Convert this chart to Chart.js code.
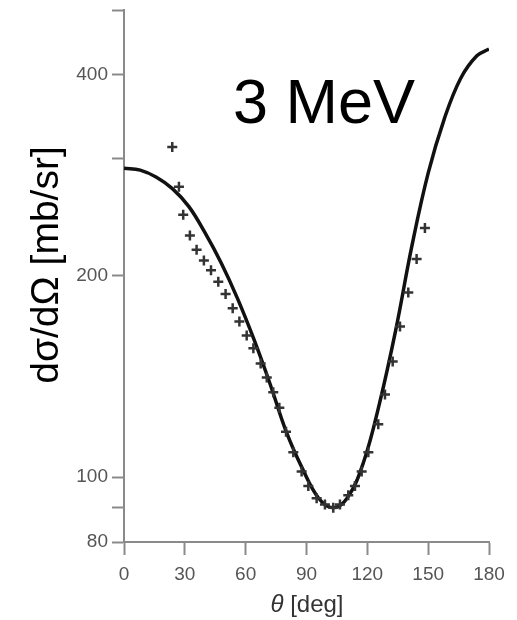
<!DOCTYPE html>
<html lang="en">
<head>
    <meta charset="UTF-8">
    <title>3 MeV</title>
    <script src="https://cdn.jsdelivr.net/npm/chart.js"></script>
    <style>
        body {
            margin: 0;
            background: #ffffff;
        }

        .chart-container {
            position: relative;
            width: 517px;
            height: 620px;
        }
    </style>
</head>
<body>
    <div class="chart-container">
        <canvas id="crossSection"></canvas>
    </div>

    <script>
        // Calculated curve (solid line)
        const curveAngles = [0, 8, 16, 24, 32, 40, 48, 56, 64, 72, 80, 88, 96, 103, 110, 118, 126, 134, 142, 150, 158, 166, 174, 180];
        const curveValues = [290, 288, 281, 270, 254, 232, 209, 185, 161, 138, 117, 103, 93, 90, 93, 105, 129, 166, 222, 285, 344, 395, 427, 437];

        // Measured points (crosses)
        const dataAngles = [23.8, 27.1, 29.2, 32.5, 35.8, 39.4, 42.9, 46.5, 50.1, 53.6, 56.9, 60.5, 63.8, 67.4, 70.4, 73.6, 76.6, 79.9, 83.5, 87.6, 90.9, 95.0, 99.1, 103.2, 106.5, 110.6, 113.9, 117.2, 120.5, 125.4, 128.7, 132.5, 136.1, 140.2, 144.3, 148.4];
        const dataValues = [312, 272, 247, 230, 219, 211, 204, 196, 188, 179, 171, 163, 156, 148, 141, 134, 127, 117, 109, 102, 97, 93, 91, 90, 91, 94, 97, 102, 109, 120, 133, 149, 168, 189, 212, 236];

        const xTicks = [0, 30, 60, 90, 120, 150, 180];
        const yTicks = [80, 90, 100, 200, 300, 400, 500];
        const yLabels = [80, 100, 200, 400];

        const toPoints = (xs, ys) => xs.map((x, i) => ({ x: x, y: ys[i] }));

        // texts drawn on top: energy label and axis titles
        const textPlugin = {
            id: 'texts',
            afterDraw(chart) {
                const ctx = chart.ctx;
                ctx.save();
                ctx.fillStyle = '#000000';
                ctx.textBaseline = 'alphabetic';
                ctx.textAlign = 'left';
                ctx.font = '63px "Liberation Sans", Arial, sans-serif';
                ctx.fillText('3 MeV', 233, 123);

                // x title: italic theta + [deg]
                ctx.fillStyle = '#333333';
                ctx.textBaseline = 'middle';
                ctx.font = 'italic 24px "Liberation Sans", Arial, sans-serif';
                const th = ctx.measureText('θ ').width;
                ctx.font = '24px "Liberation Sans", Arial, sans-serif';
                const rest = ctx.measureText('[deg]').width;
                const startX = 307 - (th + rest) / 2;
                ctx.font = 'italic 24px "Liberation Sans", Arial, sans-serif';
                ctx.fillText('θ ', startX, 605);
                ctx.font = '24px "Liberation Sans", Arial, sans-serif';
                ctx.fillText('[deg]', startX + th, 605);

                // y title
                ctx.fillStyle = '#000000';
                ctx.translate(47, 265);
                ctx.rotate(-Math.PI / 2);
                ctx.textAlign = 'center';
                ctx.font = '39px "Liberation Sans", Arial, sans-serif';
                ctx.fillText('dσ/dΩ [mb/sr]', 0, 0);
                ctx.restore();
            }
        };

        const ctx = document.getElementById('crossSection').getContext('2d');

        new Chart(ctx, {
            type: 'scatter',
            data: {
                datasets: [
                    {
                        label: 'data',
                        data: toPoints(dataAngles, dataValues),
                        pointStyle: 'cross',
                        pointRadius: 5,
                        borderColor: '#333333',
                        borderWidth: 2.5,
                        showLine: false
                    },
                    {
                        label: 'calc',
                        data: toPoints(curveAngles, curveValues),
                        showLine: true,
                        pointRadius: 0,
                        borderColor: '#111111',
                        borderWidth: 3.5,
                        tension: 0.4
                    }
                ]
            },
            options: {
                responsive: true,
                maintainAspectRatio: false,
                animation: false,
                layout: {
                    padding: { top: 10, right: 28, left: 0, bottom: 0 }
                },
                plugins: {
                    legend: { display: false },
                    tooltip: { enabled: false }
                },
                scales: {
                    x: {
                        type: 'linear',
                        min: 0,
                        max: 180,
                        afterBuildTicks: scale => {
                            scale.ticks = xTicks.map(v => ({ value: v }));
                        },
                        afterFit: scale => {
                            scale.height = 78;
                            scale.paddingLeft = 0;
                            scale.paddingRight = 0;
                        },
                        ticks: {
                            autoSkip: false,
                            maxRotation: 0,
                            padding: 8,
                            color: '#555555',
                            font: { family: '"Liberation Sans", Arial, sans-serif', size: 19 }
                        },
                        grid: {
                            drawOnChartArea: false,
                            drawTicks: true,
                            tickLength: 13,
                            tickColor: '#8a8a8a',
                            tickWidth: 2
                        },
                        border: { color: '#8a8a8a', width: 2 }
                    },
                    y: {
                        type: 'logarithmic',
                        min: 80,
                        max: 500,
                        afterBuildTicks: scale => {
                            scale.ticks = yTicks.map(v => ({ value: v }));
                        },
                        afterFit: scale => {
                            scale.width = 124;
                            scale.paddingTop = 0;
                            scale.paddingBottom = 0;
                        },
                        ticks: {
                            autoSkip: false,
                            padding: 4,
                            color: '#555555',
                            font: { family: '"Liberation Sans", Arial, sans-serif', size: 19 },
                            callback: value => yLabels.includes(value) ? String(value) : ''
                        },
                        grid: {
                            drawOnChartArea: false,
                            drawTicks: true,
                            tickLength: 12,
                            tickColor: '#8a8a8a',
                            tickWidth: 2
                        },
                        border: { color: '#8a8a8a', width: 2 }
                    }
                }
            },
            plugins: [textPlugin]
        });
    </script>
</body>
</html>
